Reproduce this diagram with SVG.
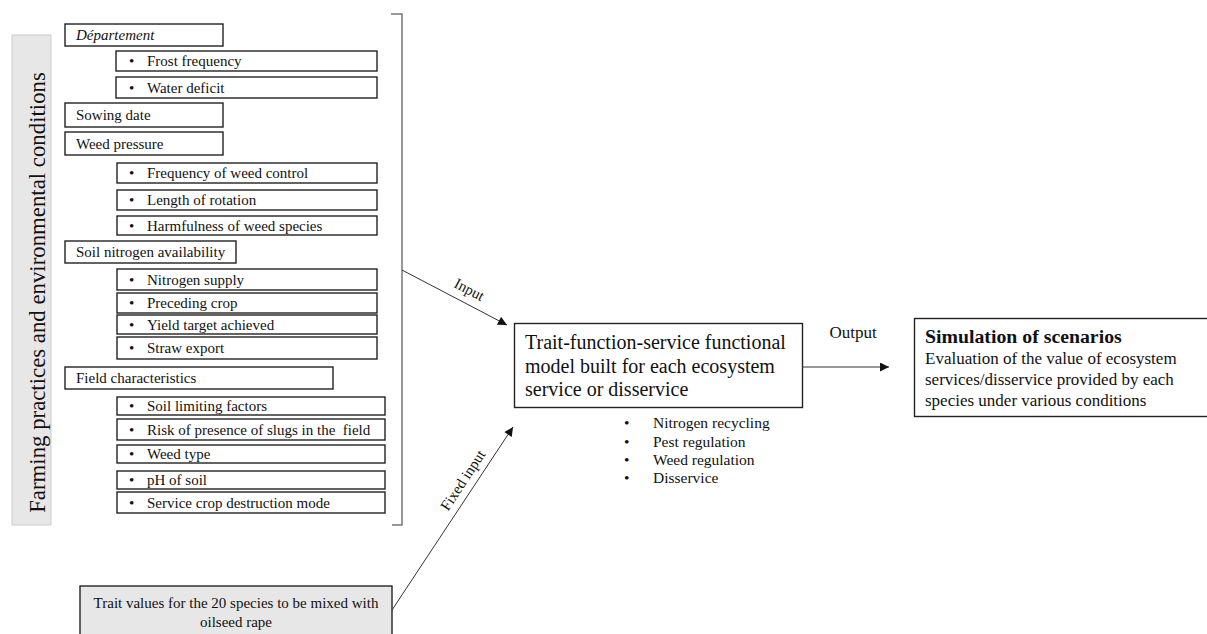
<svg xmlns="http://www.w3.org/2000/svg" width="1207" height="634" viewBox="0 0 1207 634">
<defs>
<style>
text{font-family:"Liberation Serif","Times New Roman",serif;fill:#111}
.b{fill:#fff;stroke:#222;stroke-width:1.4}
.g{fill:#e7e7e7;stroke:#ccc;stroke-width:1}
.t{font-size:15px}
.ln{stroke:#333;stroke-width:1;fill:none}
</style>
<marker id="ah" viewBox="0 0 10 10" refX="10" refY="5" markerWidth="11" markerHeight="9" markerUnits="userSpaceOnUse" orient="auto">
<path d="M0,0 L10,5 L0,10 z" fill="#111"/>
</marker>
</defs>

<g id="side-label">
<rect class="g" x="12" y="35" width="39" height="490"/>
<text transform="translate(45,292.5) rotate(-90)" text-anchor="middle" font-size="22.8">Farming practices and environmental conditions</text>
</g>

<g id="departement"><rect class="b" x="65" y="24" width="158" height="22"/><text class="t" x="76" y="39.5" font-style="italic">Département</text></g>
<g id="frost"><rect class="b" x="116" y="51" width="261" height="20"/><text class="t" x="129" y="66">•</text><text class="t" x="147" y="66">Frost frequency</text></g>
<g id="water"><rect class="b" x="116" y="77" width="261" height="21"/><text class="t" x="129" y="92.5">•</text><text class="t" x="147" y="92.5">Water deficit</text></g>
<g id="sowing"><rect class="b" x="65" y="103" width="158" height="24"/><text class="t" x="76" y="120">Sowing date</text></g>
<g id="weedpressure"><rect class="b" x="65" y="132" width="158" height="23"/><text class="t" x="76" y="148.5">Weed pressure</text></g>
<g id="freqweed"><rect class="b" x="117" y="163" width="260" height="20"/><text class="t" x="129" y="178">•</text><text class="t" x="147" y="178">Frequency of weed control</text></g>
<g id="rotation"><rect class="b" x="117" y="190" width="260" height="20"/><text class="t" x="129" y="205">•</text><text class="t" x="147" y="205">Length of rotation</text></g>
<g id="harm"><rect class="b" x="117" y="216" width="260" height="19"/><text class="t" x="129" y="230.5">•</text><text class="t" x="147" y="230.5">Harmfulness of weed species</text></g>
<g id="soiln"><rect class="b" x="65" y="241" width="171" height="22"/><text class="t" x="76" y="257">Soil nitrogen availability</text></g>
<g id="nsupply"><rect class="b" x="117" y="269" width="260" height="21"/><text class="t" x="129" y="284.5">•</text><text class="t" x="147" y="284.5">Nitrogen supply</text></g>
<g id="preceding"><rect class="b" x="117" y="293" width="260" height="20"/><text class="t" x="129" y="308">•</text><text class="t" x="147" y="308">Preceding crop</text></g>
<g id="yield"><rect class="b" x="117" y="315" width="260" height="19"/><text class="t" x="129" y="329.5">•</text><text class="t" x="147" y="329.5">Yield target achieved</text></g>
<g id="straw"><rect class="b" x="117" y="337" width="260" height="22"/><text class="t" x="129" y="353">•</text><text class="t" x="147" y="353">Straw export</text></g>
<g id="field"><rect class="b" x="65" y="367" width="268" height="22"/><text class="t" x="76" y="383">Field characteristics</text></g>
<g id="soillim"><rect class="b" x="117" y="397" width="268" height="18"/><text class="t" x="129" y="411">•</text><text class="t" x="147" y="411">Soil limiting factors</text></g>
<g id="slugs"><rect class="b" x="117" y="419" width="268" height="21"/><text class="t" x="129" y="434.5">•</text><text class="t" x="147" y="434.5" xml:space="preserve">Risk of presence of slugs in the  field</text></g>
<g id="weedtype"><rect class="b" x="117" y="445" width="268" height="18"/><text class="t" x="129" y="459">•</text><text class="t" x="147" y="459">Weed type</text></g>
<g id="ph"><rect class="b" x="117" y="471" width="268" height="18"/><text class="t" x="129" y="485">•</text><text class="t" x="147" y="485">pH of soil</text></g>
<g id="destruction"><rect class="b" x="117" y="492" width="268" height="21"/><text class="t" x="129" y="507.5">•</text><text class="t" x="147" y="507.5">Service crop destruction mode</text></g>

<g id="bracket"><path d="M391,14 H402 V525 H392" fill="none" stroke="#777" stroke-width="1.5"/></g>

<g id="traits">
<rect x="80" y="586" width="312" height="60" fill="#e7e7e7" stroke="#222" stroke-width="1.4"/>
<text class="t" x="236" y="608" text-anchor="middle">Trait values for the 20 species to be mixed with</text>
<text class="t" x="236" y="627" text-anchor="middle">oilseed rape</text>
</g>

<g id="model">
<rect class="b" x="514.5" y="323.5" width="288" height="84"/>
<text font-size="20" x="525" y="349">Trait-function-service functional</text>
<text font-size="20" x="525" y="372.5">model built for each ecosystem</text>
<text font-size="20" x="525" y="396">service or disservice</text>
</g>

<g id="services" font-size="15.5">
<text x="624" y="428">•</text><text x="653" y="428">Nitrogen recycling</text>
<text x="624" y="447">•</text><text x="653" y="447">Pest regulation</text>
<text x="624" y="465">•</text><text x="653" y="465">Weed regulation</text>
<text x="624" y="483">•</text><text x="653" y="483">Disservice</text>
</g>

<g id="simulation">
<rect class="b" x="914.5" y="318.5" width="300" height="98"/>
<text font-size="19.8" font-weight="bold" x="925" y="343">Simulation of scenarios</text>
<text font-size="17" x="925" y="364">Evaluation of the value of ecosystem</text>
<text font-size="17" x="925" y="385">services/disservice provided by each</text>
<text font-size="17" x="925" y="406">species under various conditions</text>
</g>

<g id="connectors">
<line class="ln" x1="402" y1="270" x2="507" y2="325" marker-end="url(#ah)"/>
<line class="ln" x1="392" y1="610" x2="513" y2="427" marker-end="url(#ah)"/>
<line class="ln" x1="802" y1="367" x2="889" y2="367" marker-end="url(#ah)"/>
<text font-size="15" transform="translate(467,294) rotate(27.6)" text-anchor="middle">Input</text>
<text font-size="15" transform="translate(467,483) rotate(-56.5)" text-anchor="middle">Fixed input</text>
<text font-size="17" x="853" y="338" text-anchor="middle">Output</text>
</g>
</svg>
